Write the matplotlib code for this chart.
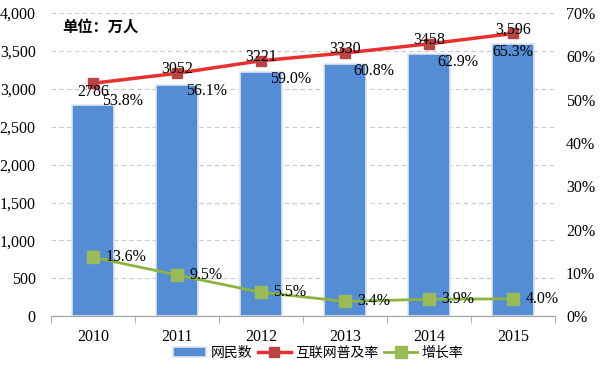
import numpy as np
import matplotlib.pyplot as plt
from matplotlib.ticker import FuncFormatter, PercentFormatter

plt.rcParams['font.family'] = ['Liberation Serif', 'Noto Sans CJK SC']

years = ['2010', '2011', '2012', '2013', '2014', '2015']
netizens = [2786, 3052, 3221, 3330, 3458, 3596]
netizen_labels = ['2786', '3052', '3221', '3330', '3458', '3,596']
penetration = [53.8, 56.1, 59.0, 60.8, 62.9, 65.3]
growth = [13.6, 9.5, 5.5, 3.4, 3.9, 4.0]

x = np.arange(len(years))

fig = plt.figure(figsize=(6, 3.75), dpi=100)
ax = fig.add_axes([0.085, 0.157, 0.84, 0.808])
ax2 = ax.twinx()

bars = ax.bar(x, netizens, width=0.49, color='#548dd4', edgecolor='#dfe6ef',
              linewidth=1.2, label='网民数', zorder=2)
ax.set_ylim(0, 4000)
ax.set_xlim(-0.5, len(years) - 0.5)
ax.set_yticks(np.arange(0, 4001, 500))
ax.yaxis.set_major_formatter(FuncFormatter(lambda v, p: f'{int(v):,}'))
ax.grid(axis='y', color='#c8c8c8', linestyle=(0, (4, 3)), linewidth=0.8, zorder=0)
ax.set_axisbelow(True)
ax.set_xticks(x)
ax.set_xticklabels(years)
ax.set_xticks(np.arange(-0.5, len(years)), minor=True)
ax.tick_params(axis='x', which='major', length=0, pad=9, labelsize=11.5)
ax.tick_params(axis='x', which='minor', length=5, color='#a0a0a0')
ax.tick_params(axis='y', length=0, labelsize=11.5, pad=11)
for s in ['top', 'right', 'left']:
    ax.spines[s].set_visible(False)
ax.spines['bottom'].set_color('#a0a0a0')

l1, = ax2.plot(x, penetration, color='#e8312f', linewidth=2.5, marker='s',
               markersize=7, markerfacecolor='#b94444', markeredgecolor='#b94444',
               label='互联网普及率', zorder=3)
l2, = ax2.plot(x, growth, color='#8db43e', linewidth=2, marker='s',
               markersize=8, markerfacecolor='#9bbb59', markeredgecolor='#9bbb59',
               label='增长率', zorder=3)
ax2.set_ylim(0, 70)
ax2.set_yticks(np.arange(0, 71, 10))
ax2.yaxis.set_major_formatter(PercentFormatter(decimals=0))
ax2.tick_params(axis='y', length=0, labelsize=11.5, pad=8)
for s in ['top', 'right', 'left', 'bottom']:
    ax2.spines[s].set_visible(False)

for i in range(len(years)):
    up = -6 if i == 0 else 3
    ax2.annotate(netizen_labels[i], (x[i], penetration[i]), xytext=(0, up),
                 textcoords='offset points', ha='center', va='center', fontsize=11.5)
    dx = 0 if i == len(years) - 1 else 21
    ax2.annotate(f'{penetration[i]:.1f}%', (x[i], penetration[i]), xytext=(dx, -13),
                 textcoords='offset points', ha='center', va='center', fontsize=11.5)
    ax2.annotate(f'{growth[i]:.1f}%', (x[i], growth[i]), xytext=(9, 0),
                 textcoords='offset points', ha='left', va='center', fontsize=11.5)

ax.text(0.022, 0.955, '单位：万人', transform=ax.transAxes, fontsize=11,
        fontweight='bold', family=['Noto Sans CJK SC'], va='center')

fig.legend(handles=[bars, l1, l2], loc='center', bbox_to_anchor=(0.53, 0.06),
           ncol=3, frameon=False, prop={'family': 'Noto Sans CJK SC', 'size': 10},
           handlelength=2.4, columnspacing=0.4, handletextpad=0.3)

fig.savefig('out.png', dpi=100)
